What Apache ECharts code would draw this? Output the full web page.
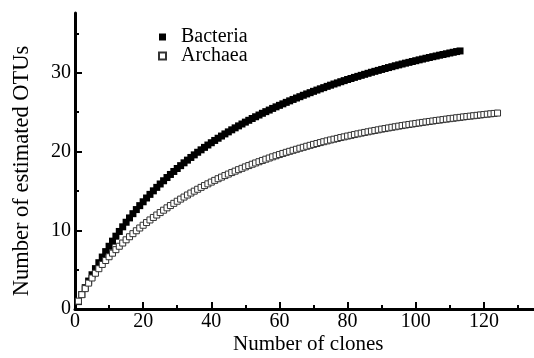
<!DOCTYPE html>
<html><head><meta charset="utf-8">
<script src="https://cdn.jsdelivr.net/npm/echarts@6/dist/echarts.min.js"></script>
<style>html,body{margin:0;padding:0;background:#fff}#c{width:534px;height:358px}</style>
</head><body><div id="c"></div>
<script>
// Estimated OTUs at 1,2,3,... clones
const bacteria = [0.94,1.84,2.71,3.55,4.35,5.13,5.88,6.60,7.29,7.97,
8.62,9.25,9.85,10.44,11.02,11.57,12.11,12.63,13.13,13.62,
14.10,14.56,15.01,15.45,15.88,16.29,16.70,17.09,17.47,17.85,
18.21,18.57,18.91,19.25,19.58,19.91,20.22,20.53,20.83,21.12,
21.41,21.69,21.97,22.24,22.50,22.76,23.01,23.26,23.50,23.74,
23.97,24.20,24.42,24.64,24.86,25.07,25.27,25.48,25.68,25.87,
26.06,26.25,26.44,26.62,26.80,26.97,27.15,27.32,27.48,27.65,
27.81,27.97,28.12,28.28,28.43,28.58,28.72,28.87,29.01,29.15,
29.28,29.42,29.55,29.68,29.81,29.94,30.07,30.19,30.31,30.43,
30.55,30.67,30.78,30.90,31.01,31.12,31.23,31.33,31.44,31.54,
31.65,31.75,31.85,31.95,32.05,32.14,32.24,32.33,32.42,32.52,
32.61,32.70,32.78];
const archaea = [1.00,1.82,2.59,3.29,3.94,4.54,5.12,5.66,6.16,6.64,
7.09,7.54,7.97,8.38,8.79,9.18,9.57,9.94,10.29,10.64,
10.98,11.31,11.63,11.94,12.25,12.55,12.85,13.14,13.42,13.69,
13.96,14.22,14.48,14.73,14.97,15.21,15.45,15.68,15.90,16.12,
16.34,16.55,16.75,16.95,17.14,17.33,17.51,17.70,17.87,18.05,
18.22,18.39,18.55,18.71,18.87,19.03,19.18,19.33,19.47,19.62,
19.76,19.90,20.03,20.16,20.29,20.42,20.54,20.67,20.79,20.91,
21.02,21.14,21.25,21.36,21.47,21.57,21.67,21.78,21.87,21.97,
22.06,22.16,22.25,22.34,22.43,22.51,22.60,22.68,22.76,22.85,
22.92,23.00,23.08,23.15,23.23,23.30,23.37,23.44,23.50,23.57,
23.63,23.70,23.76,23.82,23.88,23.95,24.00,24.06,24.12,24.18,
24.23,24.29,24.34,24.40,24.45,24.50,24.55,24.60,24.65,24.70,
24.75,24.80,24.84,24.89];
const seriesNames = ['Bacteria', 'Archaea'];
const xMajorTicks = [0, 20, 40, 60, 80, 100, 120];
const xMinorTicks = [10, 30, 50, 70, 90, 110, 130];
const yMajorTicks = [0, 10, 20, 30];
const yMinorTicks = [5, 15, 25, 35];
const xTitle = 'Number of clones';
const yTitle = 'Number of estimated OTUs';

const FONT = "'Liberation Serif','Times New Roman',serif";
const toPairs = arr => arr.map((v, i) => [i + 1, v]);

const chart = echarts.init(document.getElementById('c'), null, {renderer: 'canvas'});
const xBase = {type: 'value', min: 0, max: 135, gridIndex: 0, splitLine: {show: false}};
const yBase = {type: 'value', min: 0, max: 37.6, gridIndex: 0, splitLine: {show: false}};
chart.setOption({
  animation: false,
  backgroundColor: '#fff',
  textStyle: {fontFamily: FONT, color: '#000'},
  grid: {left: 75, top: 13, width: 460, height: 296, containLabel: false, outerBoundsMode: 'none'},
  legend: {
    orient: 'vertical', left: 153, top: 22, itemWidth: 7, itemHeight: 7, itemGap: -1,
    data: seriesNames,
    textStyle: {fontFamily: FONT, fontSize: 20, color: '#000', lineHeight: 19, padding: [0, 0, 0, 10]}
  },
  xAxis: [
    Object.assign({}, xBase, {
      position: 'bottom',
      axisLine: {show: true, onZero: false, lineStyle: {color: '#000', width: 3}},
      axisTick: {show: true, inside: true, length: 7, customValues: xMajorTicks, lineStyle: {color: '#000', width: 2}},
      axisLabel: {show: true, customValues: xMajorTicks, margin: 3, fontFamily: FONT, fontSize: 20, color: '#000'}
    }),
    Object.assign({}, xBase, {
      position: 'bottom',
      axisLine: {show: false},
      axisTick: {show: true, inside: true, length: 4, customValues: xMinorTicks, lineStyle: {color: '#000', width: 2}},
      axisLabel: {show: false}
    })
  ],
  yAxis: [
    Object.assign({}, yBase, {
      position: 'left',
      axisLine: {show: true, onZero: false, lineStyle: {color: '#000', width: 3}},
      axisTick: {show: true, inside: true, length: 7, customValues: yMajorTicks, lineStyle: {color: '#000', width: 2}},
      axisLabel: {show: true, customValues: yMajorTicks, margin: 4, fontFamily: FONT, fontSize: 20, color: '#000'}
    }),
    Object.assign({}, yBase, {
      position: 'left',
      axisLine: {show: false},
      axisTick: {show: true, inside: true, length: 4, customValues: yMinorTicks, lineStyle: {color: '#000', width: 2}},
      axisLabel: {show: false}
    })
  ],
  graphic: [
    {type: 'text', left: 233, top: 334, style: {text: xTitle, font: "21px " + FONT, fill: '#000'}},
    {type: 'text', x: 22, y: 171, rotation: Math.PI / 2,
      style: {text: yTitle, font: "22.5px " + FONT, fill: '#000', textAlign: 'center', textVerticalAlign: 'middle'}}
  ],
  series: [
    {name: seriesNames[0], type: 'scatter', xAxisIndex: 0, yAxisIndex: 0, symbol: 'rect', symbolSize: 7,
      itemStyle: {color: '#000', opacity: 1}, data: toPairs(bacteria), z: 2},
    {name: seriesNames[1], type: 'scatter', xAxisIndex: 0, yAxisIndex: 0, symbol: 'rect', symbolSize: 6,
      itemStyle: {color: '#fff', borderColor: '#333', borderWidth: 1, opacity: 1}, data: toPairs(archaea), z: 3}
  ]
});
</script>
</body></html>
